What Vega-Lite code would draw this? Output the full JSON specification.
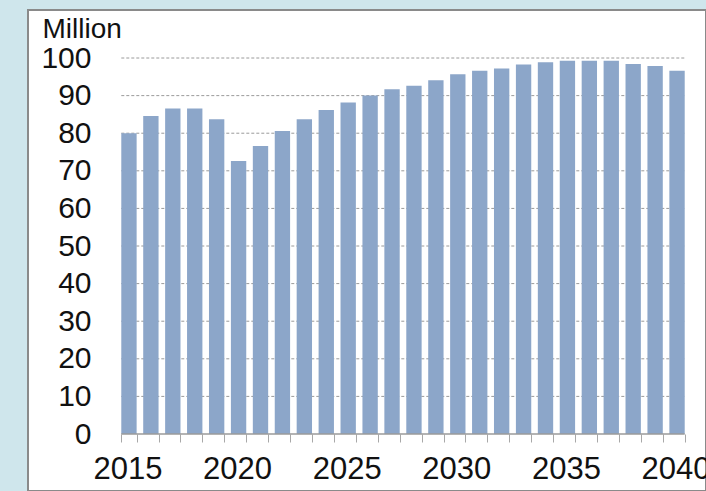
{
  "$schema": "https://vega.github.io/schema/vega-lite/v6.json",
  "width": 678,
  "height": 481,
  "autosize": {"type": "none"},
  "padding": {"left": 28, "top": 10, "right": 0, "bottom": 0},
  "background": "#cfe6ec",
  "config": {
    "view": {"fill": "white", "stroke": "#8a8a8a", "strokeWidth": 2},
    "font": "Liberation Sans"
  },
  "datasets": {
    "sales": [
      {"year": 2015, "value": 80.0},
      {"year": 2016, "value": 84.6},
      {"year": 2017, "value": 86.6},
      {"year": 2018, "value": 86.6},
      {"year": 2019, "value": 83.7},
      {"year": 2020, "value": 72.6},
      {"year": 2021, "value": 76.6},
      {"year": 2022, "value": 80.6},
      {"year": 2023, "value": 83.7},
      {"year": 2024, "value": 86.2},
      {"year": 2025, "value": 88.2},
      {"year": 2026, "value": 90.0},
      {"year": 2027, "value": 91.7},
      {"year": 2028, "value": 92.6},
      {"year": 2029, "value": 94.1},
      {"year": 2030, "value": 95.7},
      {"year": 2031, "value": 96.6},
      {"year": 2032, "value": 97.2},
      {"year": 2033, "value": 98.3},
      {"year": 2034, "value": 98.9},
      {"year": 2035, "value": 99.3},
      {"year": 2036, "value": 99.3},
      {"year": 2037, "value": 99.3},
      {"year": 2038, "value": 98.4},
      {"year": 2039, "value": 97.9},
      {"year": 2040, "value": 96.6}
    ],
    "grid": [
      {"level": 10}, {"level": 20}, {"level": 30}, {"level": 40}, {"level": 50},
      {"level": 60}, {"level": 70}, {"level": 80}, {"level": 90}, {"level": 100}
    ]
  },
  "layer": [
    {
      "data": {"name": "grid"},
      "mark": {"type": "rule", "color": "#9a9a9a", "strokeWidth": 1, "strokeDash": [3, 2]},
      "encoding": {
        "y": {"field": "level", "type": "quantitative"},
        "x": {"datum": 2015, "type": "ordinal", "bandPosition": 0},
        "x2": {"datum": 2040, "bandPosition": 1}
      }
    },
    {
      "data": {"name": "sales"},
      "mark": {"type": "bar", "color": "#8ca6c9"},
      "encoding": {
        "x": {
          "field": "year",
          "type": "ordinal",
          "scale": {"range": [90, 660], "paddingInner": 0.3, "paddingOuter": 0.15},
          "axis": {
            "orient": "bottom",
            "offset": -57,
            "title": null,
            "domain": false,
            "tickBand": "extent",
            "tickSize": 8,
            "tickColor": "#a8a8a8",
            "tickWidth": 1,
            "labelAngle": 0,
            "labelFontSize": 31,
            "labelColor": "#111111",
            "labelPadding": 27,
            "labelOffset": 33,
            "labelExpr": "datum.value % 5 == 0 ? datum.label : ''"
          }
        },
        "y": {
          "field": "value",
          "type": "quantitative",
          "scale": {"domain": [-15.16, 112.77], "nice": false, "zero": false},
          "axis": {
            "orient": "left",
            "offset": -90,
            "values": [0, 10, 20, 30, 40, 50, 60, 70, 80, 90, 100],
            "grid": false,
            "domain": false,
            "ticks": false,
            "labelPadding": 27,
            "labelFontSize": 30,
            "labelColor": "#111111",
            "title": "Million",
            "titleAngle": 0,
            "titleAlign": "left",
            "titleBaseline": "alphabetic",
            "titleX": -76,
            "titleY": 27,
            "titleFontSize": 28,
            "titleFontWeight": "normal",
            "titleColor": "#111111"
          }
        },
        "y2": {"datum": 0}
      }
    },
    {
      "data": {"values": [{}]},
      "mark": {"type": "rule", "color": "#9a9a9a", "strokeWidth": 1.5},
      "encoding": {
        "y": {"datum": 0, "type": "quantitative"},
        "x": {"datum": 2015, "type": "ordinal", "bandPosition": 0},
        "x2": {"datum": 2040, "bandPosition": 1}
      }
    }
  ]
}
